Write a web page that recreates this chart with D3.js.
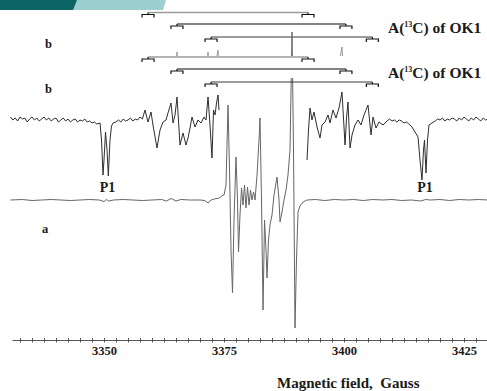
<!DOCTYPE html>
<html><head><meta charset="utf-8">
<script src="https://cdn.jsdelivr.net/npm/d3@7"></script>
<style>html,body{margin:0;padding:0;background:#fff;overflow:hidden}svg{display:block}</style>
</head><body>
<script>
// ---------- data ----------
const tickLabels = [3350, 3375, 3400, 3425];
const tickStep = 2.5;
const traceA = [
 [3330.5,0],[3333,0.5],[3335,-0.5],[3337,0],[3339,0.5],[3341,0],[3343,-0.5],[3345,0],[3347,0.5],[3349,0],
 [3350,-1.5],[3350.5,0.5],[3351,-1],[3352,0],[3354,0.5],[3356,0],[3358,-0.5],[3360,0],[3362,0.5],[3363,-1],
 [3364,1.5],[3365,-1],[3366,0.5],[3368,0],[3370,0],[3371,-0.5],[3371.7,-3],[3372.3,0],[3373,1],[3374,2],[3374.8,5],
 [3375.0,5],[3375.42,15],[3375.83,95],[3376.15,30],[3376.46,-50],[3376.77,-93],[3377.08,-20],[3377.5,43],
 [3377.81,0],[3378.02,-52],[3378.33,-15],[3378.65,12],[3378.96,-5],[3379.27,15],[3379.58,-8],[3379.9,13],
 [3380.21,-5],[3380.52,10],[3380.83,0],[3381.15,8],[3381.46,0],[3381.88,25],[3382.29,60],[3382.5,82],
 [3382.81,0],[3383.13,-110],[3383.44,-20],[3383.75,-50],[3383.96,-78],[3384.27,-40],[3384.58,-25],[3385.0,-15],
 [3385.42,5],[3386.04,23],[3386.46,0],[3386.67,-22],[3387.08,-12],[3387.5,0],[3387.92,10],[3388.33,25],
 [3388.75,50],[3389.17,168],[3389.48,50],[3389.79,-128],[3390.1,-60],[3390.42,-12],[3390.83,-6],[3391.46,-2],
 [3392.29,0],[3394,0.5],[3396,-0.5],[3398,0.5],[3400,0],[3402,0.5],[3404,-0.5],[3406,0.5],[3408,0],[3410,0.5],
 [3412,-0.5],[3414,0],[3416,-1],[3417,0.5],[3418,0],[3420,0.5],[3422,-0.5],[3424,0.5],[3426,0],[3428,0.5],[3430,0]
];
const traceBLeft = [
 [3330.5,3],[3331,0],[3331.5,2],[3332,-1],[3332.5,3],[3333,1],[3333.5,2],[3334,-2],[3334.5,1],[3335,3],
 [3335.5,0],[3336,2],[3336.5,-1],[3337,1],[3337.5,3],[3338,0],[3338.5,2],[3339,-1],[3339.5,1],[3340,2],
 [3340.5,-2],[3341,0],[3341.5,2],[3342,-1],[3342.5,1],[3343,-2],[3343.5,0],[3344,1],[3344.5,-2],[3345,0],
 [3345.5,-1],[3346,1],[3346.5,-2],[3347,-1],[3347.5,-3],[3348,-2],[3348.5,-4],
 [3349.17,-3],[3349.48,-20],[3349.79,-55],[3350.0,-40],[3350.31,-12],[3350.63,-30],[3350.9,-56],[3351.25,-20],
 [3351.56,-6],[3351.88,-3],
 [3352.5,-2],[3353,0],[3353.5,-2],[3354,1],[3354.5,-1],[3355,0],[3355.5,2],[3356,-1],[3356.5,1],[3357,0],[3357.5,3],[3358,1],
 [3358.54,10],[3359.17,-2],[3359.79,8],[3360.2,-5],[3361.04,-28],[3361.67,-10],[3362.29,-2],[3362.92,0],
 [3363.33,7],[3363.96,17],[3364.38,-3],[3364.79,5],[3365.21,23],[3365.83,-25],[3366.46,-13],[3367.08,-25],
 [3367.5,-18],[3367.92,-8],[3368.33,3],[3368.96,-7],[3369.58,0],[3370.21,-3],[3370.83,3],[3371.25,0],
 [3371.67,23],[3372.08,-5],[3372.5,-38],[3372.81,10],[3373.13,5],[3373.44,17],[3373.75,25],[3373.96,10]
];
const traceBRight = [
 [3392.29,-40],[3392.6,-10],[3392.92,12],[3393.33,0],[3393.75,8],[3394.38,-7],[3395.0,-18],[3395.42,-5],
 [3396.04,-2],[3396.67,5],[3397.08,-3],[3397.71,10],[3398.33,2],[3398.96,12],[3399.58,28],[3400.21,-25],
 [3400.52,2],[3400.83,18],[3401.25,-28],[3401.67,-15],[3402.29,-5],[3402.92,0],[3403.54,-5],[3404.17,5],
 [3405.0,15],[3405.63,-15],[3406.04,3],[3406.67,-8],[3407.29,-2],[3408.13,-5],[3408.96,-1],
 [3409.5,1],[3410,-1],[3410.5,0],[3411,-2],[3411.5,0],[3412,-1],[3412.5,-3],[3413,-2],[3413.5,-4],
 [3414.17,-7],[3415.42,-17],[3415.83,-40],[3416.25,-60],[3416.56,-30],[3416.77,-20],[3417.08,-53],[3417.4,-20],
 [3417.71,-5],[3418.33,-3],
 [3419,-1],[3419.5,1],[3420,0],[3420.5,2],[3421,-1],[3421.5,1],[3422,0],[3422.5,2],[3423,1],[3423.5,-1],
 [3424,2],[3424.5,0],[3425,3],[3425.5,1],[3426,-1],[3426.5,2],[3427,0],[3427.5,3],[3428,1],[3428.5,-1],
 [3429,2],[3429.5,0],[3430,1]
];
const bracketStart = [3359.17, 3365.2, 3372.3];
const bracketEnd = [3392.5, 3400.4, 3405.9];
const braceHalf = 1.25;
const offsetA = 0, offsetB = 80, offsetGhost = 125;

// ---------- layout ----------
const W = 487, H = 391;
const FONT = '"Liberation Serif", "Times New Roman", serif';
const svg = d3.select("body").append("svg").attr("width", W).attr("height", H);
const x = d3.scaleLinear().domain([3330.83, 3429.79]).range([12, 487]);
const y = d3.scaleLinear().domain([-140, 200]).range([340, 0]);

// banner
svg.append("polygon").attr("points", "0,0 166,0 163,10 0,10").attr("fill", "#9ccfd0");
svg.append("polygon").attr("points", "0,0 77,0 73,10 0,10").attr("fill", "#0d6465");

const lineGen = off => d3.line().x(d => x(d[0])).y(d => y(d[1] + off));

function brackets(levels) {
  const g = svg.append("g");
  const cols = ["#9a9a9a", "#5a5a5a", "#3a3a3a"];
  const widths = [1.6, 1.6, 1.2];
  bracketStart.forEach((s, i) => {
    const e = bracketEnd[i], L = levels[i];
    g.append("line").attr("x1", x(s)).attr("x2", x(e)).attr("y1", L).attr("y2", L)
      .attr("stroke", cols[i]).attr("stroke-width", widths[i]);
    [s, e].forEach(c => {
      const p = `M${x(c - braceHalf)},${L + 5}V${L + 2}H${x(c + braceHalf)}V${L + 5}M${x(c)},${L}V${L + 2}`;
      g.append("path").attr("d", p).attr("fill", "none").attr("stroke", "#111").attr("stroke-width", 1.2);
    });
  });
}

brackets([12.5, 24, 37]);

// ghost tips of the upper b copy
svg.append("clipPath").attr("id", "ghostclip").append("rect")
  .attr("x", 0).attr("y", 46).attr("width", W).attr("height", 10);
const ghost = svg.append("g").attr("clip-path", "url(#ghostclip)");
[traceBLeft, traceBRight].forEach(d => ghost.append("path").datum(d).attr("d", lineGen(offsetGhost))
  .attr("fill", "none").attr("stroke", "#999").attr("stroke-width", 1));

// trace a
svg.append("path").datum(traceA).attr("d", lineGen(offsetA))
  .attr("fill", "none").attr("stroke", "#666").attr("stroke-width", 1).attr("stroke-linejoin", "round");

// mask under second bracket group
svg.append("rect").attr("x", 280).attr("y", 56).attr("width", 24).attr("height", 22).attr("fill", "#fff");
brackets([57, 69, 82]);

// trace b
[traceBLeft, traceBRight].forEach(d => svg.append("path").datum(d).attr("d", lineGen(offsetB))
  .attr("fill", "none").attr("stroke", "#2e2e2e").attr("stroke-width", 1).attr("stroke-linejoin", "round"));

// labels
function styleText(sel, fs) {
  return sel.style("font-family", FONT).style("font-weight", "bold").style("font-size", fs + "px").attr("fill", "#1a1a1a");
}
function txt(t, px, py, fs, anchor) {
  return styleText(svg.append("text").attr("x", px).attr("y", py)
    .attr("text-anchor", anchor || "start").text(t), fs);
}
txt("b", 45, 48, 12.5);
txt("b", 45, 93, 12.5);
txt("a", 42, 233, 12.5);
txt("P1", 107.5, 192, 14, "middle");
txt("P1", 425, 192, 14, "middle");
[33, 78].forEach(by => {
  const t = styleText(svg.append("text").attr("x", 388).attr("y", by), 15.5);
  t.append("tspan").text("A(");
  t.append("tspan").style("font-size", "8px").attr("dy", -6).text("13");
  t.append("tspan").attr("dy", 6).text("C) of OK1");
});

// axis
const ticks = d3.range(3332.5, 3429, tickStep);
const axisG = svg.append("g").attr("transform", "translate(0,340)")
  .call(d3.axisBottom(x).tickValues(ticks).tickSizeInner(2.5).tickSizeOuter(0).tickPadding(4)
    .tickFormat(d => tickLabels.includes(d) ? d : ""));
axisG.select(".domain").attr("stroke", "#555");
axisG.selectAll(".tick line").attr("stroke", "#555");
axisG.selectAll(".tick").append("line").attr("y1", 0).attr("y2", -2).attr("stroke", "#555");
styleText(axisG.selectAll("text"), 12.5);
txt("Magnetic field,  Gauss", 277, 388, 15).style("white-space", "pre");
</script>
</body></html>
